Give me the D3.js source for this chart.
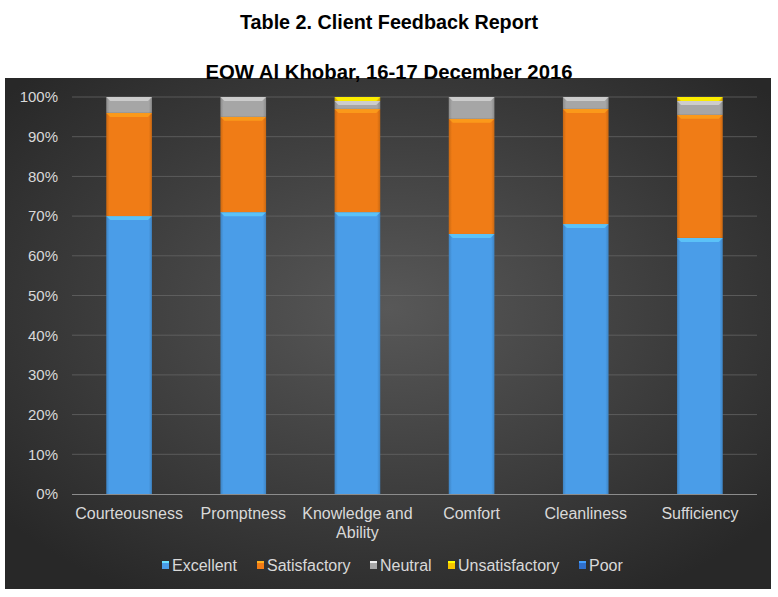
<!DOCTYPE html>
<html><head><meta charset="utf-8">
<script src="https://cdn.jsdelivr.net/npm/d3@7"></script>
<style>body{margin:0;background:#fff;}svg{display:block;}</style>
</head><body>
<svg id="c" width="778" height="597"></svg>
<script>
const categories = ["Courteousness","Promptness","Knowledge and Ability","Comfort","Cleanliness","Sufficiency"];
const seriesNames = ["Excellent","Satisfactory","Neutral","Unsatisfactory","Poor"];
const excellent = [70, 71, 71, 65.5, 68, 64.5];
const satisfactory = [26, 24, 26, 29, 29, 31];
const neutral = [4, 5, 2, 5.5, 3, 3.5];
const unsatisfactory = [0, 0, 1, 0, 0, 1];
const poor = [0, 0, 0, 0, 0, 0];
const yTicks = [0,10,20,30,40,50,60,70,80,90,100];
const colors = ["#4a9de8","#f07c16","#a6a6a6","#f5c400","#2f6fcc"];
const titleText = "Table 2. Client Feedback Report";
const subtitleText = "EOW Al Khobar, 16-17 December 2016";

const svg = d3.select("#c");
const defs = svg.append("defs");
const bg = defs.append("radialGradient").attr("id","bg").attr("cx","50%").attr("cy","45%").attr("r","65%");
bg.append("stop").attr("offset","0%").attr("stop-color","#585858");
bg.append("stop").attr("offset","100%").attr("stop-color","#282828");

colors.forEach((c,i)=>{
  const g = defs.append("linearGradient").attr("id","g"+i).attr("x1","0").attr("x2","1").attr("y1","0").attr("y2","0");
  const dk = d3.color(c).darker(0.5).formatHex();
  g.append("stop").attr("offset","0%").attr("stop-color",dk);
  g.append("stop").attr("offset","7%").attr("stop-color",c);
  g.append("stop").attr("offset","93%").attr("stop-color",c);
  g.append("stop").attr("offset","100%").attr("stop-color",dk);
});

svg.append("rect").attr("x",5).attr("y",78).attr("width",766).attr("height",511).attr("fill","url(#bg)");

const x = d3.scaleBand().domain(categories).range([72,757]).paddingInner(0.6).paddingOuter(0.3);
const y = d3.scaleLinear().domain([0,100]).range([494,97]);

svg.append("g").selectAll("line").data(yTicks.slice(1)).join("line")
  .attr("x1",72).attr("x2",757).attr("y1",d=>y(d)).attr("y2",d=>y(d))
  .attr("stroke","#6a6a6a").attr("stroke-width",1).attr("opacity",0.7);

const font = "'Liberation Sans Narrow','Liberation Sans',Arial,sans-serif";
const yAxis = d3.axisLeft(y).tickValues(yTicks).tickFormat(d=>d+"%").tickSize(0).tickPadding(8);
const ya = svg.append("g").attr("transform","translate(66,0)").call(yAxis);
ya.select(".domain").remove();
ya.selectAll("text").attr("fill","#d9d9d9").style("font-family",font).style("font-size","15px");

const table = categories.map((c,i)=>({cat:c, Excellent:excellent[i], Satisfactory:satisfactory[i], Neutral:neutral[i], Unsatisfactory:unsatisfactory[i], Poor:poor[i]}));
const stacked = d3.stack().keys(seriesNames)(table);

const bars = svg.append("g");
stacked.forEach((s,si)=>{
  const gg = bars.append("g");
  s.forEach(d=>{
    const h = y(d[0]) - y(d[1]);
    if (h <= 0.01) return;
    const bx = x(d.data.cat), bw = x.bandwidth(), by = y(d[1]);
    gg.append("rect").attr("x",bx).attr("y",by).attr("width",bw).attr("height",h).attr("fill","url(#g"+si+")");
    const bh = Math.min(4, h);
    const lt = d3.color(colors[si]).brighter(0.8).formatHex();
    gg.append("path")
      .attr("d",`M${bx},${by}L${bx+bw},${by}L${bx+bw-bh},${by+bh}L${bx+bh},${by+bh}Z`)
      .attr("fill",lt).attr("opacity",0.7);
  });
});

svg.append("line").attr("x1",72).attr("x2",757).attr("y1",y(0)+0.5).attr("y2",y(0)+0.5).attr("stroke","#8c8c8c").attr("stroke-width",1);

const xlab = svg.append("g").style("font-family",font).style("font-size","16px").attr("fill","#d9d9d9");
const wraps = {"Knowledge and Ability":["Knowledge and","Ability"]};
categories.forEach(c=>{
  const lines = wraps[c] || [c];
  const t = xlab.append("text").attr("text-anchor","middle").attr("x",x(c)+x.bandwidth()/2).attr("y",519);
  lines.forEach((l,i)=>t.append("tspan").attr("x",x(c)+x.bandwidth()/2).attr("dy",i?19:0).text(l));
});

const legX = [165,260,373,451,582];
const leg = svg.append("g").style("font-family",font).style("font-size","16px");
seriesNames.forEach((n,i)=>{
  const gx = legX[i];
  leg.append("rect").attr("x",gx-3).attr("y",561).attr("width",7).attr("height",8).attr("fill",colors[i]);
  leg.append("rect").attr("x",gx-3).attr("y",561).attr("width",7).attr("height",2).attr("fill",d3.color(colors[i]).brighter(1).formatHex());
  leg.append("text").attr("x",gx+7).attr("y",571).attr("fill","#d9d9d9").text(n);
});

svg.append("text").attr("x",389).attr("y",29).attr("text-anchor","middle").style("font-family",font).style("font-weight","bold").style("font-size","21px")
  .attr("textLength",298).attr("lengthAdjust","spacingAndGlyphs").attr("fill","#000").text(titleText);
svg.append("text").attr("x",389).attr("y",79).attr("text-anchor","middle").style("font-family",font).style("font-weight","bold").style("font-size","21px")
  .attr("textLength",367).attr("lengthAdjust","spacingAndGlyphs").attr("fill","#000").text(subtitleText);
</script>
</body></html>
